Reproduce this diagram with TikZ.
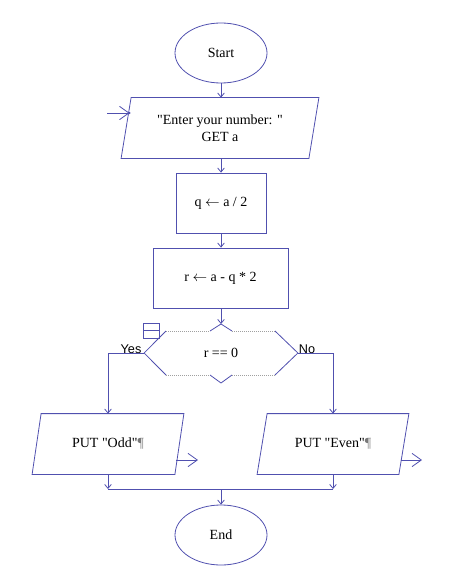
\documentclass[tikz,border=0pt]{standalone}
\usepackage{fontspec}
\setmainfont{Liberation Serif}
\newfontfamily\yesfont{Liberation Sans}
\usetikzlibrary{arrows.meta,shapes.geometric}
\definecolor{fl}{RGB}{80,80,175}
\definecolor{dotg}{RGB}{160,160,160}
\definecolor{pil}{RGB}{120,120,120}
\newcommand{\dq}{\textquotedbl}
\begin{document}
\begin{tikzpicture}[x=0.75pt,y=-0.75pt, line width=0.6pt,
  every node/.style={font=\fontsize{10.5}{13}\selectfont, inner sep=0pt},
  term/.style={ellipse, draw=fl, minimum width=69pt, minimum height=45pt},
  proc/.style={rectangle, draw=fl, minimum height=45pt},
  io/.style={rectangle, minimum height=45pt, align=center},
  flow/.style={draw=fl, -{Straight Barb[length=3pt,width=5pt]}},
  bigarr/.style={draw=fl, -{Straight Barb[length=7pt,width=10pt]}},
  lbl/.style={font=\yesfont\fontsize{9.5}{11}\selectfont},
  dotl/.style={draw=dotg, dash pattern=on 0.75pt off 0.75pt}]
\useasboundingbox (0,0) rectangle (474,588);
% nodes
\node[term] (start) at (221,53) {Start};
\node[io, minimum width=140.25pt] (in) at (220,128) {\dq Enter your number: \dq\\GET a};
\draw[fl] ([xshift=3.75pt]in.north west) -- ([xshift=3.75pt]in.north east)
  -- ([xshift=-3.75pt]in.south east) -- ([xshift=-3.75pt]in.south west) -- cycle;
\node[proc, minimum width=67.5pt] (q) at (221,203) {q $\leftarrow$ a / 2};
\node[proc, minimum width=101.25pt] (r) at (220.5,278) {r $\leftarrow$ a - q * 2};
\node[minimum width=114.75pt, minimum height=33pt] (dec) at (221,353) {r == 0};
\draw[fl] (166,331) -- (dec.west) -- (166,375);
\draw[fl] (275,331) -- (dec.east) -- (275,375);
\coordinate (dtop) at (221,324);
\draw[fl] (210,331) -- (dtop) -- (232,331);
\draw[fl] (210,375) -- (221,383) -- (232,375);
\draw[dotl] (166,331) -- (210,331) (232,331) -- (275,331)
  (166,375) -- (210,375) (232,375) -- (275,375);
\draw[fl] (143,323) rectangle (159,338);
\draw[fl] (143,330.5) -- (159,330.5);
\node[lbl] (yes) at (131,349) {Yes};
\node[lbl] (no) at (307,349) {No};
\node[io, minimum width=106.5pt] (odd) at (108,444) {PUT \dq Odd\dq{\color{pil}¶}};
\draw[fl] ([xshift=3.375pt]odd.north west) -- ([xshift=3.375pt]odd.north east)
  -- ([xshift=-3.375pt]odd.south east) -- ([xshift=-3.375pt]odd.south west) -- cycle;
\node[io, minimum width=105.75pt] (even) at (333,444) {PUT \dq Even\dq{\color{pil}¶}};
\draw[fl] ([xshift=3.75pt]even.north west) -- ([xshift=3.75pt]even.north east)
  -- ([xshift=-3.75pt]even.south east) -- ([xshift=-3.75pt]even.south west) -- cycle;
\node[term] (end) at (221,535) {End};
% connectors
\draw[flow] (start.south) -- (start.south |- in.north);
\draw[flow] (q.north |- in.south) -- (q.north);
\draw[flow] (q.south) -- (q.south |- r.north);
\draw[flow] (r.south -| dtop) -- (dtop);
\draw[flow] (dec.west) -| (odd.north);
\draw[flow] (dec.east) -| (even.north);
\coordinate (jm) at (221,489);
\draw[flow] (odd.south) -- (odd.south |- jm);
\draw[flow] (even.south) -- (even.south |- jm);
\draw[fl] (odd.south |- jm) -- (even.south |- jm);
\draw[flow] (jm) -- (end.north);
% entry / exit arrows
\coordinate (entryS) at (107,113);
\coordinate (entryT) at (129.5,113);
\draw[bigarr] (entryS) -- (entryT);
\fill[fl] (entryT) circle (0.9pt);
\coordinate (oddS) at (176.3,460);
\coordinate (oddT) at (198,460);
\draw[bigarr] (oddS) -- (oddT);
\coordinate (evenS) at (400.5,460);
\coordinate (evenT) at (422,460);
\draw[bigarr] (evenS) -- (evenT);
\end{tikzpicture}
\end{document}
